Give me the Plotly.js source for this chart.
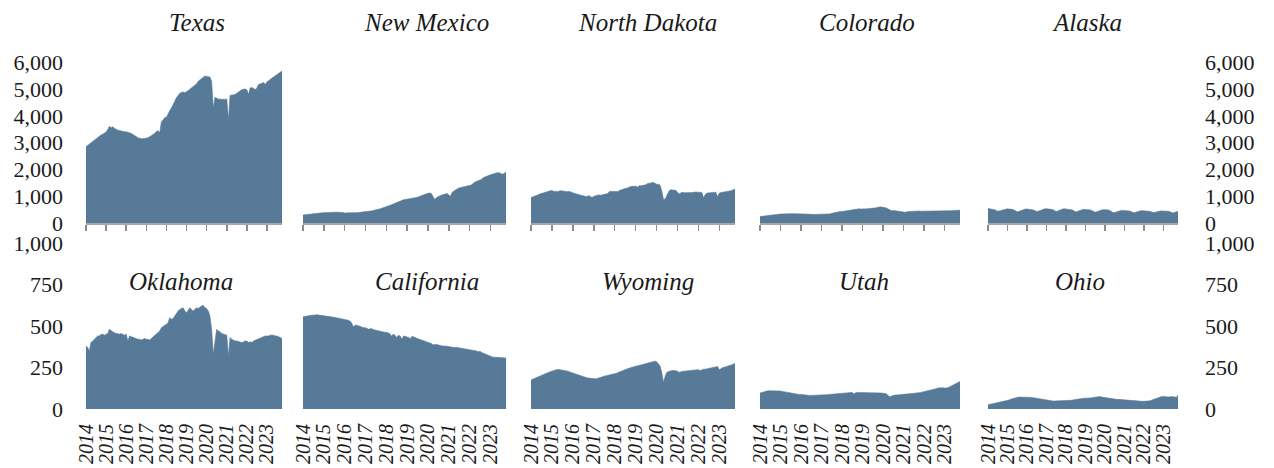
<!DOCTYPE html>
<html>
<head>
<meta charset="utf-8">
<script src="https://cdn.plot.ly/plotly-3.0.1.min.js"></script>
<style>
  html, body { margin: 0; padding: 0; background: #ffffff; }
  #chart { width: 1274px; height: 468px; }
</style>
</head>
<body>
<div id="chart"></div>
<script>
// ---------------- DATA (thousand barrels per day, monthly Jan 2014 – Oct 2023) ----------------
const startYear = 2014;
const states = ['Texas', 'New Mexico', 'North Dakota', 'Colorado', 'Alaska',
                'Oklahoma', 'California', 'Wyoming', 'Utah', 'Ohio'];
const yearLabels = ['2014','2015','2016','2017','2018','2019','2020','2021','2022','2023'];

const texas = [
  2850,2900,2960,3010,3060,3110,3160,3200,3240,3290,3320,3350,
  3400,3500,3620,3560,3600,3540,3500,3470,3460,3440,3420,3410,
  3410,3390,3380,3350,3310,3280,3230,3190,3160,3150,3150,3160,
  3170,3190,3220,3260,3300,3350,3420,3450,3380,3780,3850,3940,
  3950,4100,4200,4300,4400,4550,4680,4780,4850,4880,4900,4870,
  4900,4950,5000,5050,5100,5150,5200,5300,5350,5420,5480,5500,
  5480,5470,5460,5300,4300,4700,4650,4630,4640,4620,4630,4620,
  4640,3850,4770,4780,4790,4800,4850,4900,4950,4980,5000,5010,
  4980,4800,5050,5070,5030,4990,5050,5180,5200,5230,5250,5180,
  5280,5320,5380,5420,5460,5500,5560,5600,5640,5680
];
const newMexico = [
  300,310,320,330,340,345,350,360,365,370,375,380,
  385,390,400,405,410,410,405,405,400,405,400,395,
  370,385,380,380,375,380,385,385,390,395,400,410,
  420,430,440,450,460,470,490,510,520,540,560,590,
  610,640,660,680,710,740,770,800,830,850,870,880,
  890,900,910,920,930,940,960,990,1020,1050,1080,1100,
  1110,1120,1100,980,880,950,1000,1020,1050,1070,1090,1100,
  1050,1000,1150,1200,1240,1280,1310,1330,1350,1360,1380,1390,
  1400,1420,1480,1530,1560,1580,1600,1640,1700,1730,1750,1780,
  1800,1820,1840,1870,1880,1880,1850,1820,1860,1900
];
const northDakota = [
  950,970,1000,1020,1050,1080,1100,1130,1150,1170,1180,1220,
  1220,1180,1190,1170,1200,1210,1200,1180,1180,1170,1180,1160,
  1120,1100,1090,1060,1040,1030,1020,1000,980,1030,1000,950,
  1000,1020,1040,1050,1040,1060,1050,1090,1100,1180,1180,1190,
  1190,1170,1180,1220,1250,1260,1290,1300,1330,1370,1380,1360,
  1380,1340,1390,1390,1400,1420,1430,1480,1480,1500,1520,1480,
  1450,1450,1420,1200,880,900,1040,1180,1240,1240,1240,1220,
  1150,1080,1130,1150,1130,1130,1130,1120,1130,1140,1160,1150,
  1150,1140,1140,940,1070,1120,1130,1140,1150,1140,1150,980,
  1120,1140,1150,1170,1180,1190,1200,1210,1250,1260
];
const colorado = [
  240,250,260,270,275,285,290,300,305,315,320,330,
  335,340,345,350,350,355,355,350,350,350,345,345,
  340,340,335,330,330,325,325,320,320,325,325,330,
  330,330,320,320,330,340,360,380,400,410,420,430,
  430,440,450,460,470,480,490,500,520,530,530,520,
  520,510,520,530,540,540,550,560,570,590,600,600,
  590,580,560,520,480,460,470,460,450,440,430,430,
  420,400,420,430,440,440,440,440,450,450,440,440,
  440,440,440,440,450,450,450,460,460,460,460,450,
  450,450,460,460,460,470,470,480,480,480
];
const alaska = [
  540,530,530,520,500,470,440,450,470,500,520,530,
  530,520,520,510,490,450,420,430,460,490,510,520,
  520,520,510,500,490,460,430,440,470,500,520,530,
  530,530,520,510,500,470,430,450,480,510,520,530,
  520,520,510,500,490,450,420,430,460,490,500,510,
  510,500,500,490,470,430,400,420,450,480,490,500,
  500,490,490,470,430,390,390,410,440,460,470,470,
  470,470,460,450,430,390,380,400,430,450,460,460,
  460,460,450,440,430,400,390,400,420,440,450,450,
  450,450,440,440,420,390,370,400,420,430
];
const oklahoma = [
  380,370,350,400,410,420,430,440,440,450,450,445,
  450,455,480,470,465,460,455,455,450,455,450,445,
  450,410,440,435,430,425,420,420,420,415,420,425,
  420,420,415,425,435,440,450,460,470,490,500,505,
  510,520,550,540,545,560,580,590,600,605,610,590,
  580,595,610,600,590,600,610,605,615,620,625,610,
  605,590,560,480,330,400,480,470,465,455,450,450,
  445,320,430,420,415,410,410,405,400,400,405,410,
  410,400,405,400,410,415,420,425,430,430,435,440,
  440,440,445,445,445,440,440,435,430,425
];
const california = [
  555,558,560,560,562,565,565,568,568,566,565,562,
  560,560,558,556,555,554,552,550,548,545,545,540,
  540,538,535,530,520,495,505,505,500,498,495,490,
  490,485,480,485,480,478,475,472,470,468,465,462,
  462,458,455,440,450,445,430,445,440,420,440,438,
  435,430,425,438,435,430,425,420,418,415,410,405,
  400,398,395,385,390,388,385,382,380,378,380,378,
  375,375,372,370,372,370,368,366,365,365,362,360,
  360,358,356,354,350,345,348,340,335,330,325,320,
  316,314,312,312,312,310,310,308,308,306
];
const wyoming = [
  175,180,185,190,195,200,205,210,212,215,220,225,
  228,232,236,238,238,235,234,232,230,228,224,220,
  218,214,210,205,200,196,192,190,188,186,184,182,
  180,182,184,186,190,194,198,200,202,205,208,210,
  212,215,220,225,230,235,238,242,245,248,252,255,
  258,260,262,265,268,270,272,275,278,282,286,288,
  285,275,260,220,160,200,222,226,230,232,232,230,
  228,220,226,228,228,230,230,230,232,234,235,236,
  236,232,238,240,240,242,245,248,250,252,254,256,
  236,245,250,252,255,258,262,266,270,275
];
const utah = [
  96,100,104,106,108,110,110,112,112,110,110,108,
  108,106,104,104,102,100,98,96,94,92,90,88,
  88,86,84,84,82,82,82,82,82,82,83,84,
  84,84,85,86,87,88,89,90,91,92,93,94,
  95,96,97,98,99,100,100,90,98,100,100,100,
  98,98,99,100,100,100,99,98,98,97,96,96,
  95,94,92,80,74,78,82,84,84,85,86,86,
  86,86,87,88,90,92,94,95,96,98,100,102,
  104,106,108,110,112,114,118,122,126,128,130,128,
  126,125,128,134,140,146,150,155,160,166
];
const ohio = [
  26,28,30,32,34,36,38,40,42,44,46,48,
  50,54,58,62,66,68,70,72,72,73,74,74,
  74,72,72,70,68,66,64,62,60,58,56,54,
  52,50,50,49,48,48,48,48,48,48,49,50,
  50,50,51,52,54,56,58,60,62,63,64,65,
  65,64,64,66,68,70,72,74,76,75,72,70,
  68,67,66,66,64,62,60,58,58,57,56,55,
  54,52,52,50,50,48,48,47,46,46,46,46,
  46,46,47,48,50,54,58,62,66,70,74,76,
  76,74,72,72,74,76,74,72,70,84
];
const series = [texas, newMexico, northDakota, colorado, alaska,
                oklahoma, california, wyoming, utah, ohio];

// ---------------- LAYOUT CONSTANTS ----------------
const W = 1274, H = 468;
const FILL = '#577a99';
const SERIF = '"Liberation Serif", "DejaVu Serif", serif';
const colPx = [[86, 282], [303, 506], [531, 735], [760, 960], [988, 1178]];
const rowPx = [[223, 62.5], [409, 243]];          // [baseline, top] in pixels
const rowRange = [[0, 6000], [0, 1000]];
const rowDtick = [1000, 250];
const titleCenters = [[197, 22], [427, 22], [647, 22], [867, 22], [1087, 22],
                      [181, 281], [427, 281], [648, 281], [864, 281], [1080, 281]];

function monthDates(n) {
  const out = [];
  for (let i = 0; i < n; i++) {
    const y = startYear + Math.floor(i / 12);
    const m = (i % 12) + 1;
    out.push(y + '-' + String(m).padStart(2, '0') + '-01');
  }
  return out;
}

const traces = [];
const layout = {
  width: W, height: H,
  margin: {l: 0, r: 0, t: 0, b: 0},
  paper_bgcolor: '#ffffff', plot_bgcolor: 'rgba(0,0,0,0)',
  showlegend: false,
  hovermode: false,
  font: {family: SERIF, color: '#1a1a1a'},
  annotations: []
};

const tickVals = yearLabels.map(y => y + '-01-01');

series.forEach((vals, i) => {
  const row = Math.floor(i / 5), col = i % 5;
  const n = i + 1;
  const xa = 'xaxis' + (n === 1 ? '' : n), ya = 'yaxis' + (n === 1 ? '' : n);
  const xs = monthDates(vals.length);
  traces.push({
    type: 'scatter', mode: 'lines', x: xs, y: vals,
    xaxis: 'x' + (n === 1 ? '' : n), yaxis: 'y' + (n === 1 ? '' : n),
    fill: 'tozeroy', fillcolor: FILL,
    line: {color: FILL, width: 0.6}
  });
  const xd = [colPx[col][0] / W, colPx[col][1] / W];
  const yd = [1 - rowPx[row][0] / H, 1 - rowPx[row][1] / H];
  layout[xa] = {
    domain: xd, anchor: 'y' + (n === 1 ? '' : n),
    type: 'date', range: [xs[0], xs[xs.length - 1]],
    tickvals: tickVals, ticktext: yearLabels,
    showgrid: false, zeroline: false,
    showline: row === 0, linecolor: '#a6a6a6', linewidth: 2,
    ticks: row === 0 ? 'outside' : '', ticklen: 6, tickwidth: 1.5, tickcolor: '#8c8c8c',
    showticklabels: row === 1, tickangle: -90, ticklabelstandoff: 10,
    tickfont: {family: SERIF, size: 20, style: 'italic', color: '#1a1a1a'},
    fixedrange: true
  };
  const side = col === 4 ? 'right' : 'left';
  layout[ya] = {
    domain: yd, anchor: 'x' + (n === 1 ? '' : n),
    range: rowRange[row], dtick: rowDtick[row], tick0: 0, tickformat: ',d',
    showgrid: false, zeroline: false, showline: false, ticks: '',
    side: side,
    showticklabels: col === 0 || col === 4,
    ticklabelstandoff: col === 0 ? 22 : 26,
    tickfont: {family: SERIF, size: 22, color: '#1a1a1a'},
    fixedrange: true
  };
  layout.annotations.push({
    text: states[i], xref: 'paper', yref: 'paper',
    x: titleCenters[i][0] / W, y: 1 - titleCenters[i][1] / H,
    xanchor: 'center', yanchor: 'middle', showarrow: false,
    font: {family: SERIF, size: 25, style: 'italic', color: '#1a1a1a'}
  });
});

// Chart title, cropped at the top edge of the picture (only descenders show)
layout.annotations.push({
  text: 'Crude oil production in the top ten producing states (thousand barrels per day)',
  xref: 'paper', yref: 'paper', x: 0.5, y: 1 + 4 / H,
  xanchor: 'center', yanchor: 'bottom', showarrow: false,
  font: {family: SERIF, size: 26, weight: 'bold', color: '#1a1a1a'}
});

Plotly.newPlot('chart', traces, layout, {staticPlot: true, displayModeBar: false});
</script>
</body>
</html>
